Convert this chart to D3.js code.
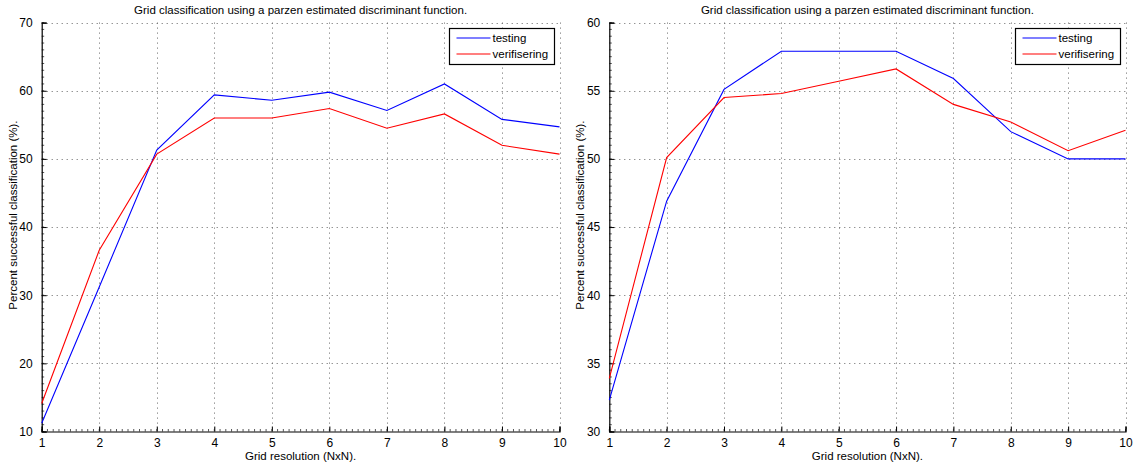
<!DOCTYPE html>
<html>
<head>
<meta charset="utf-8">
<script src="https://cdn.jsdelivr.net/npm/d3@7"></script>
<style>
  body { margin: 0; background: #fff; }
  text { font-family: "Liberation Sans", Arial, sans-serif; fill: #000; }
</style>
</head>
<body>
<svg id="chart" width="1137" height="468"></svg>
<script>
var gridSizes = [1, 2, 3, 4, 5, 6, 7, 8, 9, 10];
var seriesNames = ["testing", "verifisering"];

// left panel
var leftTesting = [11.2, 31.2, 51.3, 59.4, 58.6, 59.8, 57.1, 61.0, 55.8, 54.7];
var leftVerif = [14.1, 36.6, 50.7, 56.0, 56.0, 57.4, 54.5, 56.6, 52.0, 50.7];
var leftYTicks = [10, 20, 30, 40, 50, 60, 70];

// right panel
var rightTesting = [32.3, 46.9, 55.1, 57.9, 57.9, 57.9, 55.9, 52.0, 50.0, 50.0];
var rightVerif = [33.9, 50.1, 54.5, 54.8, 55.7, 56.6, 54.0, 52.7, 50.6, 52.1];
var rightYTicks = [30, 35, 40, 45, 50, 55, 60];

var titleText = "Grid classification using a parzen estimated discriminant function.";
var xLabel = "Grid resolution (NxN).";
var yLabel = "Percent successful classification (%).";

var svg = d3.select("#chart");

function draw_panel(left, right, yTicks, testing, verif) {
    var top = 22.6, bottom = 431.5;
    var x = d3.scaleLinear().domain([1, 10]).range([left, right]);
    var y = d3.scaleLinear().domain([yTicks[0], yTicks[yTicks.length - 1]]).range([bottom, top]);
    var g = svg.append("g");

    // dotted grid
    g.selectAll(".vgrid").data(gridSizes.slice(1)).enter().append("line")
        .attr("x1", function (d) { return Math.round(x(d)) + 0.5; })
        .attr("x2", function (d) { return Math.round(x(d)) + 0.5; })
        .attr("y1", top).attr("y2", bottom)
        .attr("stroke", "#666").attr("stroke-width", 1)
        .attr("stroke-dasharray", "1,4");
    g.selectAll(".hgrid").data(yTicks.slice(1)).enter().append("line")
        .attr("x1", left).attr("x2", right)
        .attr("y1", function (d) { return Math.round(y(d)) + 0.5; })
        .attr("y2", function (d) { return Math.round(y(d)) + 0.5; })
        .attr("stroke", "#666").attr("stroke-width", 1)
        .attr("stroke-dasharray", "1,4");

    // minor ticks
    var step = (yTicks[1] - yTicks[0]) / 10;
    var yMinor = d3.range(yTicks[0], yTicks[yTicks.length - 1] + step / 2, step);
    g.selectAll(".ymin").data(yMinor).enter().append("line")
        .attr("x1", left).attr("x2", left + 2.5)
        .attr("y1", function (d) { return y(d); })
        .attr("y2", function (d) { return y(d); })
        .attr("stroke", "#444").attr("stroke-width", 0.9);
    var xMinor = d3.range(1, 10.05, 0.1);
    g.selectAll(".xmin").data(xMinor).enter().append("line")
        .attr("x1", function (d) { return x(d); })
        .attr("x2", function (d) { return x(d); })
        .attr("y1", bottom).attr("y2", bottom - 2.5)
        .attr("stroke", "#444").attr("stroke-width", 0.9);

    // axes
    var xAxis = g.append("g")
        .attr("transform", "translate(0," + bottom + ")")
        .call(d3.axisBottom(x).tickValues(gridSizes).tickSize(-5).tickPadding(7)
            .tickFormat(d3.format("d")));
    var yAxis = g.append("g")
        .attr("transform", "translate(" + left + ",0)")
        .call(d3.axisLeft(y).tickValues(yTicks).tickSize(-5).tickPadding(9));
    [xAxis, yAxis].forEach(function (a) {
        a.select(".domain").attr("stroke", "#000").attr("stroke-width", 1.2);
        a.selectAll(".tick line").attr("stroke", "#000").attr("stroke-width", 1);
        a.selectAll(".tick text").attr("font-size", "12px")
            .attr("font-family", "Liberation Sans, Arial, sans-serif").attr("fill", "#222");
    });

    // lines
    var line = d3.line()
        .x(function (d, i) { return x(gridSizes[i]); })
        .y(function (d) { return y(d); });
    g.append("path").datum(testing).attr("d", line)
        .attr("fill", "none").attr("stroke", "#0000ff").attr("stroke-width", 1.1);
    g.append("path").datum(verif).attr("d", line)
        .attr("fill", "none").attr("stroke", "#ff0000").attr("stroke-width", 1.1);

    // title and labels
    var mid = (left + right) / 2;
    g.append("text").attr("x", mid).attr("y", 14).attr("text-anchor", "middle")
        .attr("font-size", "11.5px").text(titleText);
    g.append("text").attr("x", mid).attr("y", 460).attr("text-anchor", "middle")
        .attr("font-size", "11.5px").text(xLabel);
    g.append("text")
        .attr("transform", "translate(" + (left - 25) + "," + ((top + bottom) / 2 - 12) + ") rotate(-90)")
        .attr("text-anchor", "middle").attr("font-size", "11.5px").text(yLabel);

    // legend
    var lx = right - 110, ly = 28.5;
    var leg = g.append("g").attr("transform", "translate(" + lx + "," + ly + ")");
    leg.append("rect").attr("width", 105).attr("height", 36)
        .attr("fill", "#fff").attr("stroke", "#000").attr("stroke-width", 1.2);
    var colors = ["#0000ff", "#ff0000"];
    seriesNames.forEach(function (name, i) {
        leg.append("line").attr("x1", 7).attr("x2", 41)
            .attr("y1", 9.5 + i * 16).attr("y2", 9.5 + i * 16)
            .attr("stroke", colors[i]).attr("stroke-width", 1.1);
        leg.append("text").attr("x", 43).attr("y", 13.5 + i * 16)
            .attr("font-size", "11.5px").text(name);
    });
}

draw_panel(41.7, 559.5, leftYTicks, leftTesting, leftVerif);
draw_panel(609.3, 1125.5, rightYTicks, rightTesting, rightVerif);
</script>
</body>
</html>
